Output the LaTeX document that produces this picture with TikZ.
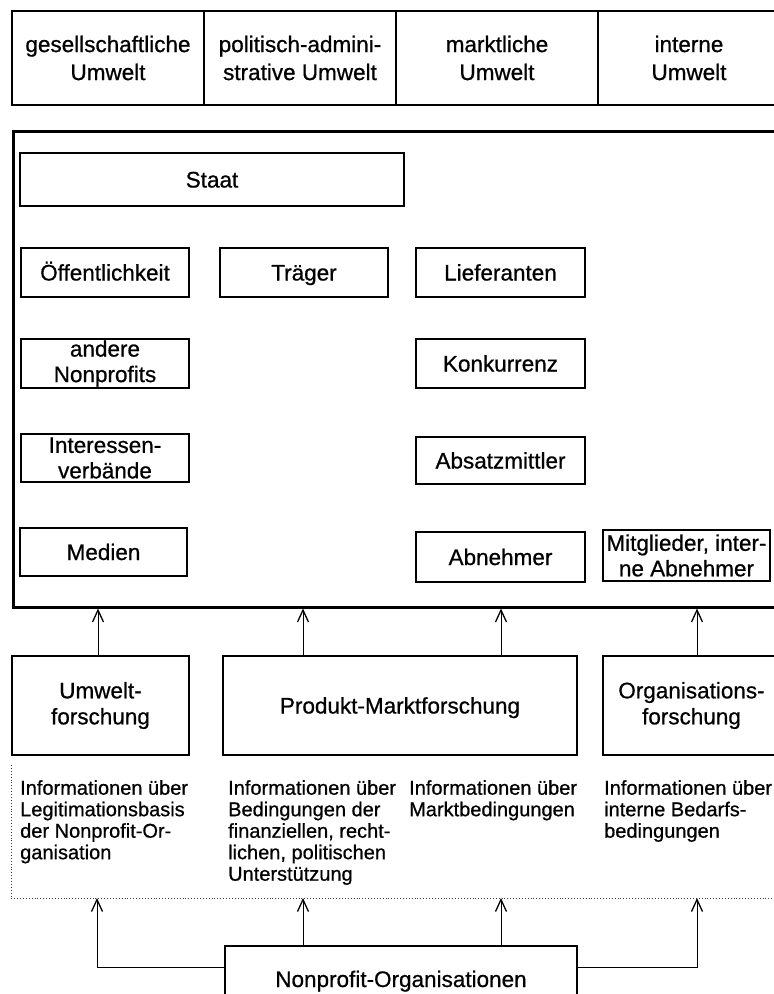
\documentclass[tikz,border=0pt]{standalone}
\usepackage{fontspec}
\setmainfont{Liberation Sans}[FakeBold=0.7]
\usetikzlibrary{arrows.meta,calc}
\newcommand\mybox[7][]{\node[box,#1,minimum width={#4-#2},minimum height={#5-#3}] (#6) at ({(#2+#4)/2},{(#3+#5)/2}) {#7};}
\begin{document}
\begin{tikzpicture}[x=1pt,y=-1pt,
  box/.style={draw,line width=1.1pt,inner sep=0pt,align=center,font=\fontsize{22.5}{25.5}\selectfont},
  one/.style={text height=16pt,text depth=0pt},
  topcell/.style={line width=1.4pt,font=\fontsize{22.5}{28}\selectfont},
  resbox/.style={line width=1.4pt,font=\fontsize{22.5}{26}\selectfont},
  info/.style={font=\fontsize{20}{21.5}\selectfont,align=left,anchor=north west,inner sep=0pt},
  arr/.style={line width=1pt,-{Straight Barb[length=12pt,width=11pt,line width=1.3pt]}},
  dots/.style={dotted,line width=0.9pt,black!75}]
\useasboundingbox (0,0) rectangle (774,994);
% top row
\mybox[topcell]{12}{11}{204}{105}{t1}{gesellschaftliche\\Umwelt}
\mybox[topcell]{204}{11}{396}{105}{t2}{politisch-admini-\\strative Umwelt}
\mybox[topcell]{396}{11}{598}{105}{t3}{marktliche\\Umwelt}
\mybox[topcell]{598}{11}{780}{105}{t4}{interne\\Umwelt}
% frame
\node[draw,line width=3pt,inner sep=0pt,minimum width=768pt,minimum height=476pt] (frame) at (397,369) {};
% inner boxes
\mybox[one]{20}{153}{404}{206}{staat}{Staat}
\mybox[one]{21}{248}{189}{297}{oeff}{Öffentlichkeit}
\mybox[one]{220}{248}{388}{297}{traeger}{Träger}
\mybox[one]{416}{248}{585}{297}{liefer}{Lieferanten}
\mybox{21}{339}{189}{388}{andere}{andere\\Nonprofits}
\mybox[one]{416}{339}{585}{388}{konk}{Konkurrenz}
\mybox{21}{434}{189}{482}{inter}{Interessen-\\verbände}
\mybox[one]{416}{437}{585}{484}{absatz}{Absatzmittler}
\mybox[one]{20}{528}{187}{576}{medien}{Medien}
\mybox[one]{416}{532}{585}{582}{abn}{Abnehmer}
\mybox{603}{530}{770}{581}{mitgl}{Mitglieder, inter-\\ne Abnehmer}
% research boxes
\mybox[resbox]{12}{656}{189}{755}{rb1}{Umwelt-\\forschung}
\mybox[resbox,one]{223}{656}{577}{755}{rb2}{Produkt-Marktforschung}
\mybox[resbox]{603}{656}{780}{755}{rb3}{Organisations-\\forschung}
\draw[arr] ([xshift=-2.5pt]rb1.north) -- ([xshift=-2.5pt]rb1.north |- frame.south);
\draw[arr] ([xshift=-97pt]rb2.north) -- ([xshift=-97pt]rb2.north |- frame.south);
\draw[arr] ([xshift=101pt]rb2.north) -- ([xshift=101pt]rb2.north |- frame.south);
\draw[arr] ([xshift=5.5pt]rb3.north) -- ([xshift=5.5pt]rb3.north |- frame.south);
% info texts
\node[info] (i1) at (20,780) {Informationen über\\Legitimationsbasis\\der Nonprofit-Or-\\ganisation};
\node[info] (i2) at (228,780) {Informationen über\\Bedingungen der\\finanziellen, recht-\\lichen, politischen\\Unterstützung};
\node[info] (i3) at (409,780) {Informationen über\\Marktbedingungen};
\node[info] (i4) at (604,780) {Informationen über\\interne Bedarfs-\\bedingungen};
% dotted frame
\draw[dots] (11,765) -- (11,898) -- (790,898);
\coordinate (d1) at (97,898);
\coordinate (d2) at (303,898);
\coordinate (d3) at (501,898);
\coordinate (d4) at (697,898);
% bottom box
\mybox[resbox,one]{225}{946}{577}{1012}{np}{Nonprofit-Organisationen}
\draw[arr] ([yshift=12pt]np.west) -| (d1);
\draw[arr] ([xshift=-98pt]np.north) -- (d2);
\draw[arr] ([xshift=100pt]np.north) -- (d3);
\draw[arr] ([yshift=12pt]np.east) -| (d4);
\end{tikzpicture}
\end{document}
